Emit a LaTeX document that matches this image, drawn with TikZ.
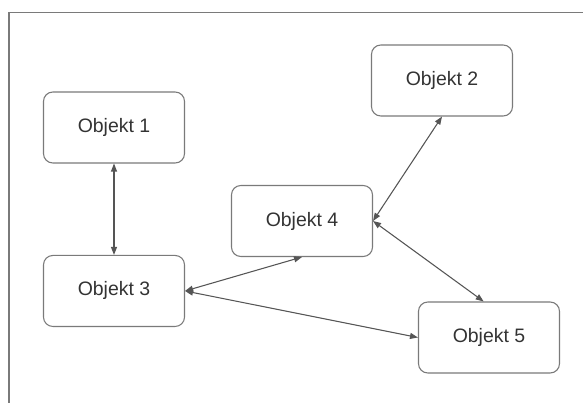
\documentclass[tikz,border=0pt]{standalone}
\usepackage{fontspec}
\setmainfont{Liberation Sans}
\usetikzlibrary{arrows.meta}
\definecolor{boxgray}{HTML}{7A7A7A}
\definecolor{linegray}{HTML}{555555}
\definecolor{textgray}{HTML}{333333}
\begin{document}
\begin{tikzpicture}[x=0.75pt, y=-0.75pt,
    main/.style = {draw=boxgray, line width=0.8pt, rounded corners=7pt, minimum width=105.75pt, minimum height=53.25pt, text=textgray, font=\fontsize{14.6}{17}\selectfont},
    link/.style = {draw=linegray, line width=0.8pt, {Triangle[length=6pt,width=4.5pt]}-{Triangle[length=6pt,width=4.5pt]}}]
	\useasboundingbox (0,0) rectangle (583,403);
	\draw[boxgray, line width=1.2pt] (8.9,403) -- (8.9,12.5) -- (583,12.5);
	\node[main] (1) at (114,127.5) {Objekt 1};
	\node[main] (3) [below of=1, node distance=122.6pt] {Objekt 3};
	\node[main] (4) at (302,221) {Objekt 4};
	\node[main] (2) at (442,80.5) {Objekt 2};
	\node[main] (5) at (489,337.5) {Objekt 5};
	\draw[link] (1) -- (3);
	\draw[link] (3.east) -- (4.south);
	\draw[link] (3.east) -- (5.west);
	\draw[link] (4.east) -- (2.south);
	\draw[link] (4.east) -- ([xshift=-4pt]5.north);
\end{tikzpicture}
\end{document}
